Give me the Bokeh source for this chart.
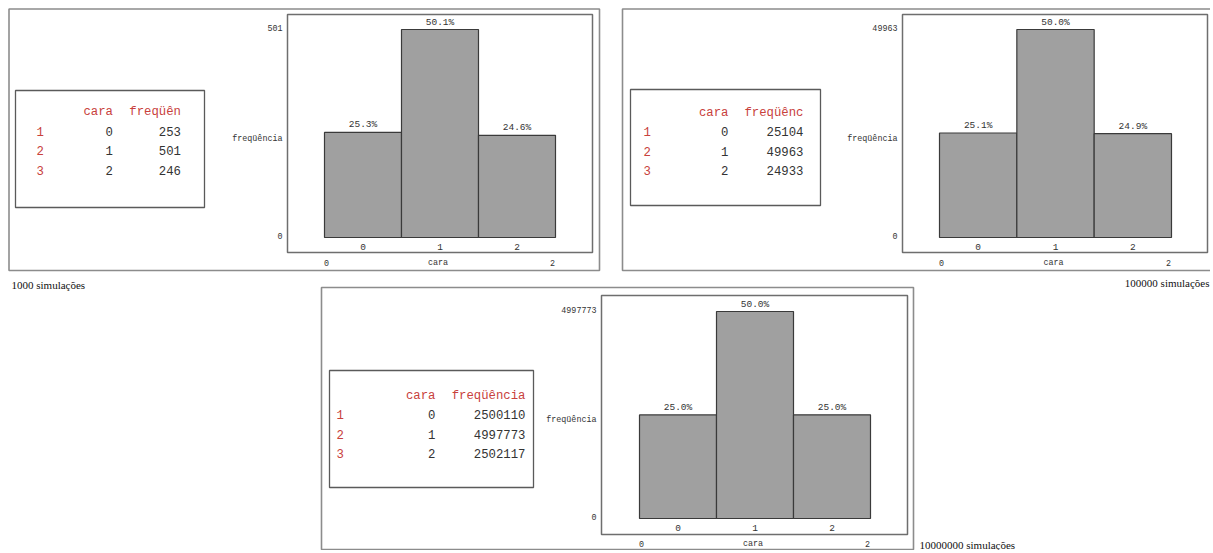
from bokeh.plotting import figure
from bokeh.models import Range1d
from bokeh.core.properties import value
from bokeh.embed import file_html
from bokeh.resources import INLINE

# ---------------- data ----------------
cara = [0, 1, 2]
freq_1000 = [253, 501, 246]
freq_100000 = [25104, 49963, 24933]
freq_10000000 = [2500110, 4997773, 2502117]
simulacoes = [1000, 100000, 10000000]
row_names = ["1", "2", "3"]
col_cara = "cara"
col_freq = ["freqüên", "freqüênc", "freqüência"]
y_label = "freqüência"
x_label = "cara"
series = [freq_1000, freq_100000, freq_10000000]

# ---------------- layout (page pixels) ----------------
W, H = 1210, 550
MONO = value("Liberation Mono")
SERIF = value("Liberation Serif")
RED = "#c8413c"
DARK = "#333333"

layout = [
    dict(outer=(8.5, 8.5, 599, 270), table=(15, 90, 204, 207), cols=(36, 112.5, 180.5),
         rows=(111, 130.5, 150, 169.5), frame=(287, 14, 592, 252), bars=(324, 555, 237, 29),
         sim=(11, 284, "left"), xlab_y=262, ylab_y=138),
    dict(outer=(622, 8.5, 1213, 270), table=(630, 89, 820, 205), cols=(643, 728, 803),
         rows=(112, 131, 151, 170), frame=(902, 14, 1207, 252), bars=(939, 1171, 237, 29),
         sim=(1209, 282, "right"), xlab_y=262, ylab_y=138),
    dict(outer=(321, 287, 913, 549), table=(329, 370, 533, 487), cols=(336, 435, 525),
         rows=(395, 414, 434, 453), frame=(601, 295, 907, 534), bars=(639, 870, 518, 311),
         sim=(919, 544, "left"), xlab_y=543, ylab_y=419),
]

p = figure(width=W, height=H, x_range=Range1d(0, W), y_range=Range1d(H, 0),
           output_backend="svg", toolbar_location=None, min_border=0,
           x_axis_location=None, y_axis_location=None)
p.grid.visible = False
p.outline_line_color = None
p.background_fill_color = "white"


def box(l, t, r, b, color, width):
    p.quad(left=[l], right=[r], top=[t], bottom=[b], fill_color=None,
           line_color=color, line_width=width)


for i, (freqs, lay) in enumerate(zip(series, layout)):
    total = sum(freqs)
    M = max(freqs)
    # panel outer frame and table frame
    box(*lay["outer"], "#8c8c8c", 1.6)
    box(*lay["table"], "#5a5a5a", 1.3)

    # ---- table ----
    c0, c1, c2 = lay["cols"]
    r = lay["rows"]
    p.text(x=[c1], y=[r[0]], text=[col_cara], text_font=MONO, text_font_size="12.3px",
           text_align="right", text_baseline="middle", text_color=RED)
    p.text(x=[c2], y=[r[0]], text=[col_freq[i]], text_font=MONO, text_font_size="12.3px",
           text_align="right", text_baseline="middle", text_color=RED)
    p.text(x=[c0] * 3, y=list(r[1:]), text=row_names, text_font=MONO, text_font_size="12.3px",
           text_align="left", text_baseline="middle", text_color=RED)
    p.text(x=[c1] * 3, y=list(r[1:]), text=[str(c) for c in cara], text_font=MONO,
           text_font_size="12.3px", text_align="right", text_baseline="middle", text_color=DARK)
    p.text(x=[c2] * 3, y=list(r[1:]), text=[str(f) for f in freqs], text_font=MONO,
           text_font_size="12.3px", text_align="right", text_baseline="middle", text_color=DARK)

    # ---- histogram: own scales mapped onto the sub-area ----
    bl, br, b0, b1 = lay["bars"]
    d0, d1 = min(cara) - 0.5, max(cara) + 0.5
    sx = (br - bl) / (d1 - d0)
    xr = Range1d(d0 + (0 - bl) / sx, d0 + (W - bl) / sx)
    sy = (b1 - b0) / M  # negative (pixels per unit, downward page)
    yr = Range1d((H - b0) / sy, (0 - b0) / sy)
    xn, yn = f"hx{i}", f"hy{i}"
    p.extra_x_ranges[xn] = xr
    p.extra_y_ranges[yn] = yr

    fl, ft, fr, fb = lay["frame"]
    box(fl, ft, fr, fb, "#6e6e6e", 1.5)

    p.quad(left=[c - 0.5 for c in cara], right=[c + 0.5 for c in cara],
           bottom=[0] * len(cara), top=freqs, x_range_name=xn, y_range_name=yn,
           fill_color="#a0a0a0", line_color="#3a3a3a", line_width=1.2)

    pct = [f"{100 * f / total:.1f}%" for f in freqs]
    p.text(x=cara, y=freqs, text=pct, x_range_name=xn, y_range_name=yn, y_offset=-2,
           text_font=MONO, text_font_size="9.5px", text_align="center",
           text_baseline="bottom", text_color=DARK)
    p.text(x=cara, y=[0] * len(cara), text=[str(c) for c in cara], x_range_name=xn,
           y_range_name=yn, y_offset=9, text_font=MONO, text_font_size="9.5px",
           text_align="center", text_baseline="middle", text_color=DARK)

    # y axis ticks (0 and max) and label
    p.text(x=[fl - 5] * 2, y=[0, M], text=["0", str(M)], y_range_name=yn, y_offset=-2,
           text_font=MONO, text_font_size="8.4px", text_align="right",
           text_baseline="middle", text_color=DARK)
    p.text(x=[fl - 5], y=[lay["ylab_y"]], text=[y_label], text_font=MONO,
           text_font_size="8.4px", text_align="right", text_baseline="middle",
           text_color=DARK)

    # x axis: min / label / max
    p.text(x=[d0, d1], y=[lay["xlab_y"]] * 2, text=[str(min(cara)), str(max(cara))],
           x_range_name=xn, x_offset=[2, -3], text_font=MONO, text_font_size="8.4px",
           text_align="center", text_baseline="middle", text_color=DARK)
    p.text(x=[(d0 + d1) / 2], y=[lay["xlab_y"]], text=[x_label], x_range_name=xn,
           x_offset=-2, text_font=MONO, text_font_size="8.4px", text_align="center",
           text_baseline="middle", text_color=DARK)

    # caption
    sx_, sy_, al = lay["sim"]
    p.text(x=[sx_], y=[sy_], text=[f"{simulacoes[i]} simulações"], text_font=SERIF,
           text_font_size="11px", text_align=al, text_baseline="middle", text_color="#111111")

open("out.html", "w").write(file_html(p, INLINE))
